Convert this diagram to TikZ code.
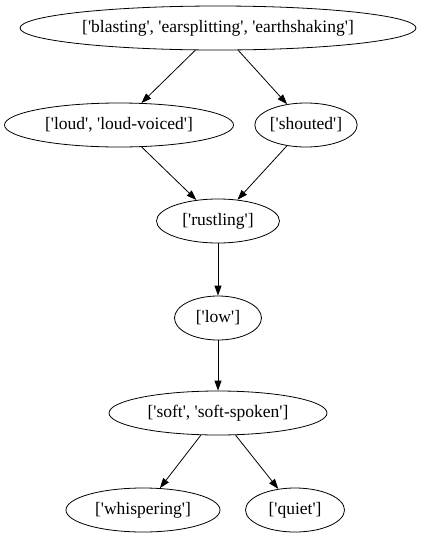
\documentclass[tikz,border=0pt]{standalone}
\usepackage{fontspec}
\setmainfont{Liberation Serif}[Ligatures=TeXOff]
\usetikzlibrary{shapes.geometric,arrows.meta}
\begin{document}
\begin{tikzpicture}[x=1pt,y=-1pt,
  ell/.style={draw,ellipse,inner sep=0pt,minimum height=44pt,font=\fontsize{17.5}{19}\selectfont,line width=0.8pt},
  edge/.style={-{Triangle[length=10pt,width=7pt]},line width=0.8pt}]
\useasboundingbox (0,0) rectangle (421,539);
\node[ell,minimum width=396pt] (a) at (218,28) {['blasting', 'earsplitting', 'earthshaking']};
\node[ell,minimum width=229pt] (b) at (119,125) {['loud', 'loud-voiced']};
\node[ell,minimum width=99pt] (c) at (306,125) {['shouted']};
\node[ell,minimum width=123pt] (d) at (218,221) {['rustling']};
\node[ell,minimum width=87pt] (e) at (218,318) {['low']};
\node[ell,minimum width=218pt] (f) at (218,413) {['soft', 'soft-spoken']};
\node[ell,minimum width=154pt] (g) at (143,510) {['whispering']};
\node[ell,minimum width=99pt] (h) at (295,510) {['quiet']};
\draw[edge] (a) -- (b);
\draw[edge] (a) -- (c);
\draw[edge] (b) -- (d);
\draw[edge] (c) -- (d);
\draw[edge] (d) -- (e);
\draw[edge] (e) -- (f);
\draw[edge] (f) -- (g);
\draw[edge] (f) -- (h);
\end{tikzpicture}
\end{document}
